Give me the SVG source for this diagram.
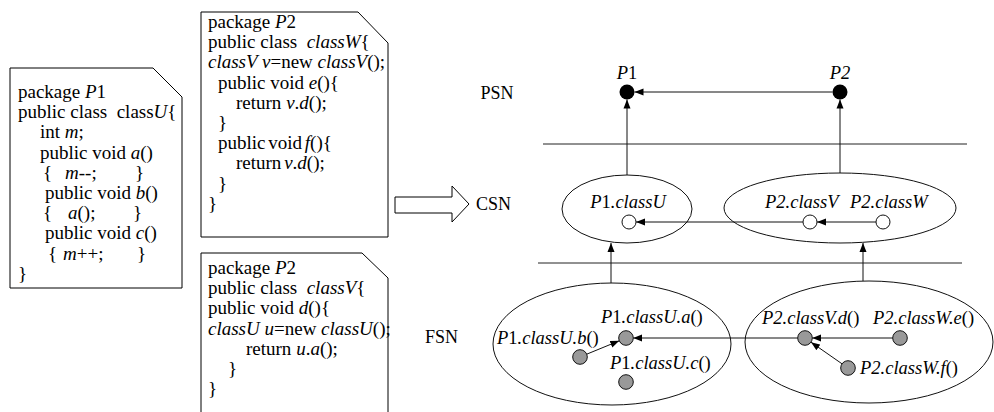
<svg xmlns="http://www.w3.org/2000/svg" width="994" height="412" viewBox="0 0 994 412">
  <style>
    .code text { font-family: "Liberation Serif", serif; font-size: 19px; white-space: pre; fill: #000; }
    .i { font-style: italic; }
    .up { font-style: normal; }
    .doc { fill: #fff; stroke: #000; stroke-width: 1; }
    .sep { stroke: #222; stroke-width: 1; }
    .ell { fill: none; stroke: #111; stroke-width: 1; }
    .edge { stroke: #111; stroke-width: 1; fill: none; marker-end: url(#ah); }
    .pkg { fill: #000; }
    .cls { fill: #fff; stroke: #111; stroke-width: 1; }
    .fn { fill: #999; stroke: #111; stroke-width: 1; }
  </style>
  <defs>
    <marker id="ah" markerUnits="userSpaceOnUse" markerWidth="10" markerHeight="8" refX="9" refY="4" orient="auto">
      <path d="M0,0.5 L9,4 L0,7.5 Z" fill="#000"/>
    </marker>
  </defs>

  <!-- source listings -->
  <g id="src-classU" class="code">
    <path class="doc" d="M10,68 H153 L182,97 V288 H10 Z"/>
    <text x="18" y="98">package <tspan class="i">P</tspan>1</text>
    <text x="18" y="118.2">public class  class<tspan class="i">U</tspan>{</text>
    <text x="40" y="138.4">int <tspan class="i">m</tspan>;</text>
    <text x="40" y="158.6">public void <tspan class="i">a</tspan>()</text>
    <text y="178.8"><tspan x="43">{</tspan><tspan x="65" class="i">m</tspan>--;<tspan x="135">}</tspan></text>
    <text x="45" y="199">public void <tspan class="i">b</tspan>()</text>
    <text y="219.2"><tspan x="43">{</tspan><tspan x="68" class="i">a</tspan>();<tspan x="133">}</tspan></text>
    <text x="45" y="239.4">public void <tspan class="i">c</tspan>()</text>
    <text y="259.6"><tspan x="48">{</tspan><tspan x="63" class="i">m</tspan>++;<tspan x="137">}</tspan></text>
    <text x="18" y="279.8">}</text>
  </g>

  <g id="src-classW" class="code">
    <path class="doc" d="M201,12 H358 L388,43 V237 H201 Z"/>
    <text x="208" y="28">package <tspan class="i">P</tspan>2</text>
    <text x="208" y="48.2">public class  <tspan class="i">classW</tspan>{</text>
    <text x="208" y="68.4"><tspan class="i">classV v</tspan>=new <tspan class="i">classV</tspan>();</text>
    <text x="218" y="88.6">public void <tspan class="i">e</tspan>(){</text>
    <text x="236" y="108.8">return <tspan class="i">v</tspan>.<tspan class="i">d</tspan>();</text>
    <text x="218" y="129">}</text>
    <text x="218" y="149.2" word-spacing="-2">public void <tspan class="i">f</tspan>(){</text>
    <text x="236" y="169.4" word-spacing="-2">return <tspan class="i">v</tspan>.<tspan class="i">d</tspan>();</text>
    <text x="218" y="189.6">}</text>
    <text x="208" y="209.8">}</text>
  </g>

  <g id="src-classV" class="code">
    <path class="doc" d="M201,416 V253 H362 L388,278 V416"/>
    <text x="208" y="274">package <tspan class="i">P</tspan>2</text>
    <text x="208" y="294.2">public class  <tspan class="i">classV</tspan>{</text>
    <text x="208" y="314.4">public void <tspan class="i">d</tspan>(){</text>
    <text x="208" y="334.6"><tspan class="i">classU u</tspan>=new <tspan class="i">classU</tspan>();</text>
    <text x="246" y="354.8">return <tspan class="i">u</tspan>.<tspan class="i">a</tspan>();</text>
    <text x="228" y="375">}</text>
    <text x="208" y="395.2">}</text>
  </g>

  <!-- transformation arrow -->
  <g id="transform-arrow">
    <polygon points="395,197 452,197 452,186 469,204 452,222 452,213 395,213" fill="#fff" stroke="#000" stroke-width="1"/>
  </g>

  <!-- layer titles -->
  <g id="layer-labels" font-family="Liberation Serif, serif" font-size="18">
    <text x="497" y="99" text-anchor="middle">PSN</text>
    <text x="476" y="210">CSN</text>
    <text x="425" y="343">FSN</text>
  </g>

  <!-- layer separators -->
  <g id="separators">
    <line class="sep" x1="543" y1="144" x2="967" y2="144"/>
    <line class="sep" x1="538" y1="263" x2="962" y2="263"/>
  </g>

  <!-- package level -->
  <g id="pkg-P1" font-family="Liberation Serif, serif" font-size="18.5" font-style="italic">
    <circle class="pkg" cx="627" cy="92" r="7.5"/>
    <text x="627" y="79" text-anchor="middle">P<tspan class="up">1</tspan></text>
  </g>
  <g id="pkg-P2" font-family="Liberation Serif, serif" font-size="18.5" font-style="italic">
    <circle class="pkg" cx="840" cy="92" r="7.5"/>
    <text x="840" y="79" text-anchor="middle">P2</text>
  </g>

  <!-- class level -->
  <g id="cls-P1" font-family="Liberation Serif, serif" font-size="18.5" font-style="italic">
    <ellipse class="ell" cx="627" cy="209" rx="65" ry="34"/>
    <text x="628" y="208" text-anchor="middle">P<tspan class="up">1</tspan>.classU</text>
    <circle class="cls" cx="629" cy="222" r="7"/>
  </g>
  <g id="cls-P2" font-family="Liberation Serif, serif" font-size="18.5" font-style="italic">
    <ellipse class="ell" cx="840" cy="208" rx="116" ry="35"/>
    <text x="765" y="208">P2.classV</text>
    <text x="850" y="208">P2.classW</text>
    <circle class="cls" cx="810" cy="222" r="7"/>
    <circle class="cls" cx="883" cy="222" r="7"/>
  </g>

  <!-- function level -->
  <g id="fn-P1" font-family="Liberation Serif, serif" font-size="18.5" font-style="italic">
    <ellipse class="ell" cx="612" cy="344" rx="119" ry="61"/>
    <text x="601" y="323">P<tspan class="up">1</tspan>.classU.a<tspan class="up">()</tspan></text>
    <text x="497" y="344">P<tspan class="up">1</tspan>.classU.b<tspan class="up">()</tspan></text>
    <text x="610" y="369">P<tspan class="up">1</tspan>.classU.c<tspan class="up">()</tspan></text>
    <circle class="fn" cx="626" cy="338" r="7.3"/>
    <circle class="fn" cx="580" cy="357" r="7.3"/>
    <circle class="fn" cx="626" cy="382" r="7.3"/>
  </g>
  <g id="fn-P2" font-family="Liberation Serif, serif" font-size="18.5" font-style="italic">
    <ellipse class="ell" cx="869" cy="342" rx="124" ry="61"/>
    <text x="762" y="324">P2.classV.d<tspan class="up">()</tspan></text>
    <text x="873" y="324">P2.classW.e<tspan class="up">()</tspan></text>
    <text x="860" y="374">P2.classW.f<tspan class="up">()</tspan></text>
    <circle class="fn" cx="805" cy="338" r="7.3"/>
    <circle class="fn" cx="900" cy="338" r="7.3"/>
    <circle class="fn" cx="848" cy="368" r="7.3"/>
  </g>

  <!-- dependency and abstraction edges -->
  <g id="connectors">
    <line class="edge" x1="832.5" y1="92" x2="634.5" y2="92"/>
    <line class="edge" x1="627" y1="175" x2="627" y2="99.5"/>
    <line class="edge" x1="840" y1="173" x2="840" y2="99.5"/>
    <line class="edge" x1="876" y1="222" x2="817" y2="222"/>
    <line class="edge" x1="803" y1="222" x2="636" y2="222"/>
    <line class="edge" x1="611" y1="283" x2="611" y2="243"/>
    <line class="edge" x1="863" y1="281" x2="863" y2="243"/>
    <line class="edge" x1="586.7" y1="354.2" x2="619.3" y2="340.8"/>
    <line class="edge" x1="797.7" y1="338" x2="633.3" y2="338"/>
    <line class="edge" x1="892.7" y1="338" x2="812.3" y2="338"/>
    <line class="edge" x1="842" y1="363.8" x2="811" y2="342.2"/>
  </g>
</svg>
